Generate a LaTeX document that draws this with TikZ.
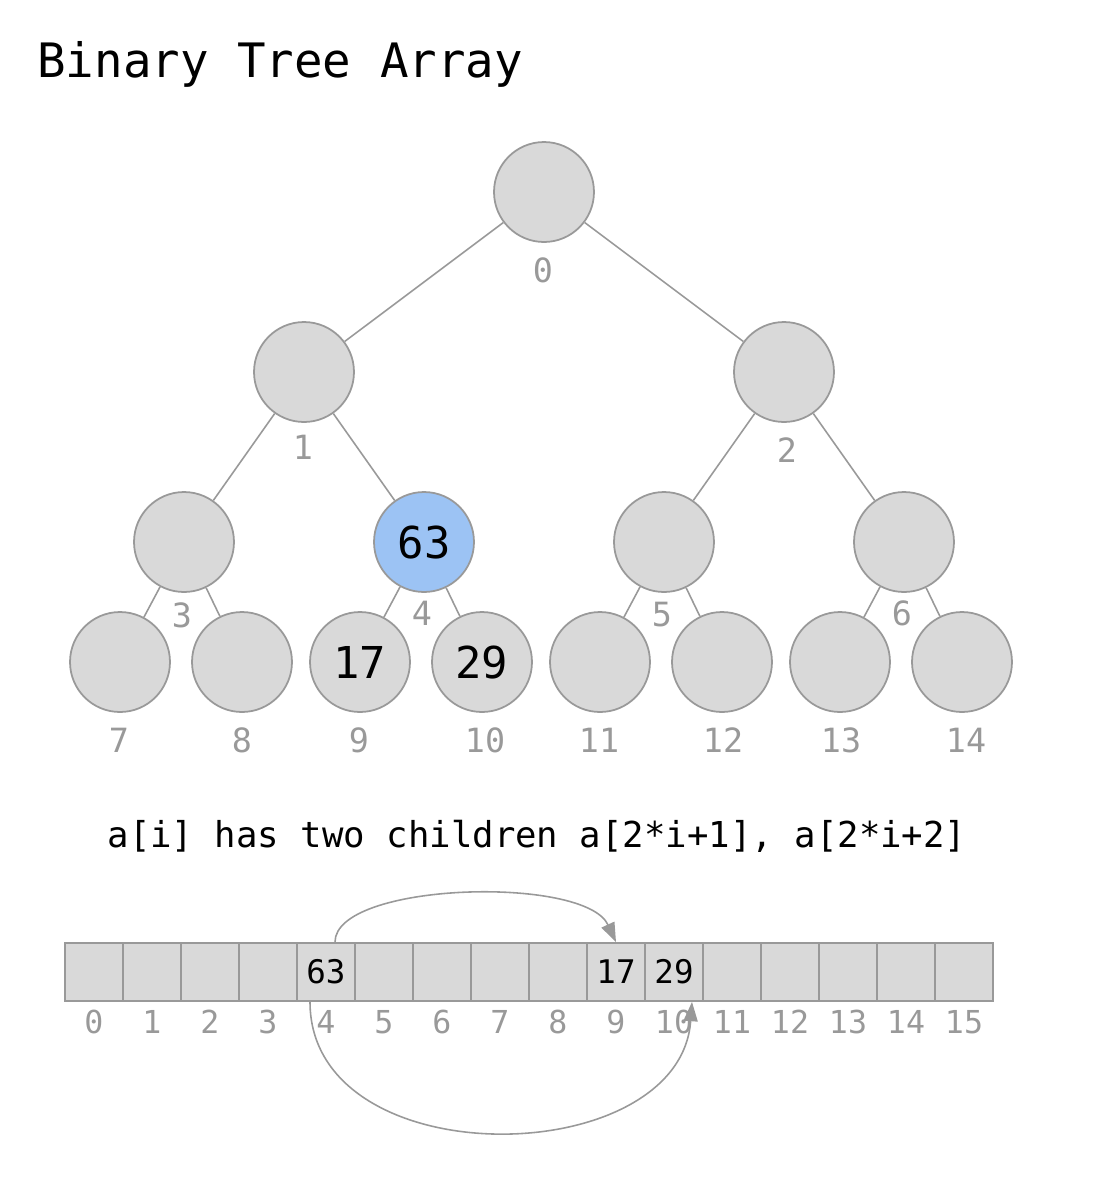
\documentclass[tikz,border=0pt]{standalone}
\usepackage{fontspec}
\setmonofont{DejaVu Sans Mono}
\usetikzlibrary{arrows.meta}
\definecolor{nodegray}{HTML}{D9D9D9}
\definecolor{linegray}{HTML}{999999}
\definecolor{hiblue}{HTML}{9CC3F4}
\tikzset{
  tnode/.style={circle,draw=linegray,fill=nodegray,line width=1pt,minimum size=2cm,inner sep=0pt,font=\ttfamily\fontsize{25}{25}\selectfont},
  hnode/.style={tnode,fill=hiblue},
  idx/.style={text=linegray,inner sep=0pt,font=\ttfamily\fontsize{19}{19}\selectfont},
  cell/.style={rectangle,draw=linegray,fill=nodegray,line width=1pt,minimum size=1.16cm,inner sep=0pt,font=\ttfamily\fontsize{18.5}{18.5}\selectfont},
  aidx/.style={idx,font=\ttfamily\fontsize{18}{18}\selectfont},
  edge/.style={draw=linegray,line width=0.9pt},
  jump/.style={draw=linegray,line width=0.9pt,-{Triangle[length=11pt,width=8pt]}}
}
\begin{document}
\begin{tikzpicture}[x=0.02cm,y=-0.02cm]
\useasboundingbox (0,0) rectangle (1100,1178);
%标题
\node[anchor=west,inner sep=0pt,font=\ttfamily\fontsize{27}{27}\selectfont] (title) at (37,64) {Binary Tree Array};
%根
\node[tnode] (n0) at (544,192) {};
%第二层
\node[tnode] (n1) at (304,372) {};
\node[tnode] (n2) at (784,372) {};
%第三层
\node[tnode] (n3) at (184,542) {};
\node[hnode] (n4) at (424,542) {63};
\node[tnode] (n5) at (664,542) {};
\node[tnode] (n6) at (904,542) {};
%叶子
\node[tnode] (n7) at (120,662) {};
\node[tnode] (n8) at (242,662) {};
\node[tnode] (n9) at (360,662) {17};
\node[tnode] (n10) at (482,662) {29};
\node[tnode] (n11) at (600,662) {};
\node[tnode] (n12) at (722,662) {};
\node[tnode] (n13) at (840,662) {};
\node[tnode] (n14) at (962,662) {};

\draw[edge] (n0)--(n1);
\draw[edge] (n0)--(n2);
\draw[edge] (n1)--(n3);
\draw[edge] (n1)--(n4);
\draw[edge] (n2)--(n5);
\draw[edge] (n2)--(n6);
\draw[edge] (n3)--(n7);
\draw[edge] (n3)--(n8);
\draw[edge] (n4)--(n9);
\draw[edge] (n4)--(n10);
\draw[edge] (n5)--(n11);
\draw[edge] (n5)--(n12);
\draw[edge] (n6)--(n13);
\draw[edge] (n6)--(n14);

%下标
\node[idx] (l0) at (543,270) {0};
\node[idx] (l1) at (303,447) {1};
\node[idx] (l2) at (787,450) {2};
\node[idx] (l3) at (182,615) {3};
\node[idx] (l4) at (422,613) {4};
\node[idx] (l5) at (662,615) {5};
\node[idx] (l6) at (902,613) {6};
\node[idx] (l7) at (119,740) {7};
\node[idx] (l8) at (242,740) {8};
\node[idx] (l9) at (359,740) {9};
\node[idx] (l10) at (485,740) {10};
\node[idx] (l11) at (599,740) {11};
\node[idx] (l12) at (723,740) {12};
\node[idx] (l13) at (841,740) {13};
\node[idx] (l14) at (966,740) {14};

%说明
\node[inner sep=0pt,font=\ttfamily\fontsize{20.3}{20.3}\selectfont] (rule) at (537,836) {a[i] has two children a[2*i+1], a[2*i+2]};

%数组
\node[cell] (a0) at (94,972) {};
\node[cell] (a1) at (152,972) {};
\node[cell] (a2) at (210,972) {};
\node[cell] (a3) at (268,972) {};
\node[cell] (a4) at (326,972) {63};
\node[cell] (a5) at (384,972) {};
\node[cell] (a6) at (442,972) {};
\node[cell] (a7) at (500,972) {};
\node[cell] (a8) at (558,972) {};
\node[cell] (a9) at (616,972) {17};
\node[cell] (a10) at (674,972) {29};
\node[cell] (a11) at (732,972) {};
\node[cell] (a12) at (790,972) {};
\node[cell] (a13) at (848,972) {};
\node[cell] (a14) at (906,972) {};
\node[cell] (a15) at (964,972) {};

\node[aidx] (i0) at (94,1022) {0};
\node[aidx] (i1) at (152,1022) {1};
\node[aidx] (i2) at (210,1022) {2};
\node[aidx] (i3) at (268,1022) {3};
\node[aidx] (i4) at (326,1022) {4};
\node[aidx] (i5) at (384,1022) {5};
\node[aidx] (i6) at (442,1022) {6};
\node[aidx] (i7) at (500,1022) {7};
\node[aidx] (i8) at (558,1022) {8};
\node[aidx] (i9) at (616,1022) {9};
\node[aidx] (i10) at (674,1022) {10};
\node[aidx] (i11) at (732,1022) {11};
\node[aidx] (i12) at (790,1022) {12};
\node[aidx] (i13) at (848,1022) {13};
\node[aidx] (i14) at (906,1022) {14};
\node[aidx] (i15) at (964,1022) {15};

%箭头
\draw[jump] ([xshift=0.18cm]a4.north) .. controls (335,882) and (585,875) .. (a9.north);
\draw[jump] ([xshift=-0.32cm]a4.south) .. controls (310,1178) and (680,1172) .. ([xshift=0.36cm]a10.south);
\end{tikzpicture}
\end{document}
